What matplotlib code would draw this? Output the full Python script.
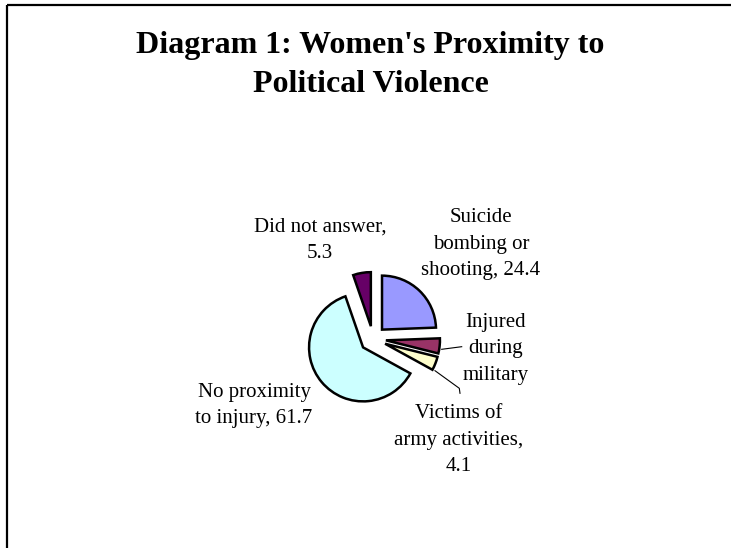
import matplotlib
matplotlib.use('Agg')
import matplotlib.pyplot as plt

# data
labels = ['Suicide\nbombing or\nshooting, 24.4',
          'Injured\nduring\nmilitary',
          'Victims of\narmy activities,\n4.1',
          'No proximity\nto injury, 61.7',
          'Did not answer,\n5.3']
values = [24.4, 4.5, 4.1, 61.7, 5.3]
colors = ['#9999FF', '#993366', '#FFFFCC', '#CCFFFF', '#660066']

W, H = 731, 548
plt.rcParams['font.family'] = ['Liberation Serif', 'DejaVu Serif']

fig = plt.figure(figsize=(W / 100, H / 100), dpi=100)
ax = fig.add_axes([0, 0, 1, 1])

def Y(py):
    return H - py

# pie (explode is in data units here, i.e. pixels)
ax.pie(values, colors=colors, startangle=90, counterclock=False,
       explode=[13] * len(values), center=(373, Y(339)), radius=54,
       wedgeprops=dict(edgecolor='black', linewidth=1.8), frame=True)
ax.set_xlim(0, W)
ax.set_ylim(0, H)
ax.axis('off')

# frame (only left and top edges are visible in the picture)
ax.plot([6.5, 6.5], [Y(H), Y(5)], color='black', lw=1.6, solid_capstyle='butt')
ax.plot([6.5, W], [Y(5), Y(5)], color='black', lw=1.6, solid_capstyle='butt')

# title
ax.text(370.5, Y(53), "Diagram 1: Women's Proximity to", ha='center', va='baseline',
        fontsize=23, fontweight='bold')
ax.text(370.5, Y(92), "Political Violence", ha='center', va='baseline',
        fontsize=23, fontweight='bold')

# labels: (center x, first baseline y) in pixels
label_pos = [(481, 222), (496, 327), (459, 418), (254, 397), (320, 232)]
step = 26.5
for text, (lx, ly) in zip(labels, label_pos):
    for i, line in enumerate(text.split('\n')):
        ax.text(lx, Y(ly + i * step), line, ha='center', va='baseline', fontsize=15)

# leader lines
ax.plot([441.7, 461.7], [Y(349.3), Y(346.7)], color='black', lw=0.8)
ax.plot([435, 459.3, 460], [Y(370.7), Y(388.3), Y(393.3)], color='black', lw=0.8)

fig.savefig('out.png', dpi=100)
